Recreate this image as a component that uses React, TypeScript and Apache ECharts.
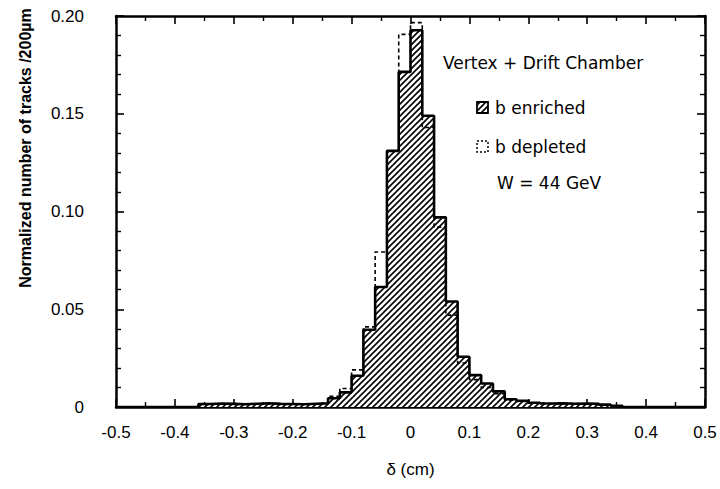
import React, { useEffect, useRef } from "react";
import * as echarts from "echarts";

// Histogram: bins of 200 µm (0.02 cm) from -0.5 to 0.5 cm
const BIN_START = -0.5;
const BIN_WIDTH = 0.02;

// b enriched (hatched) – normalized number of tracks per bin
const enriched = [
  0, 0, 0, 0, 0, 0, 0,
  0.0015, 0.0018, 0.0016, 0.0014, 0.0017, 0.0019, 0.0016, 0.0015, 0.0014, 0.0017, 0.0019,
  0.0045, 0.0075, 0.016, 0.0395, 0.0614, 0.131, 0.1714, 0.1927,
  0.149, 0.097, 0.054, 0.0257, 0.0163, 0.012, 0.008, 0.004,
  0.0032, 0.0022, 0.0018, 0.0019, 0.0017, 0.0018, 0.0016, 0.0012, 0.0006,
  0, 0, 0, 0, 0, 0, 0,
];

// b depleted (dashed outline)
const depleted = [
  0, 0, 0, 0, 0, 0, 0,
  0.0013, 0.0016, 0.0018, 0.0015, 0.0015, 0.0017, 0.0018, 0.0014, 0.0016, 0.0015, 0.0018,
  0.0055, 0.0095, 0.019, 0.041, 0.0793, 0.131, 0.1906, 0.1966,
  0.143, 0.092, 0.047, 0.0225, 0.014, 0.01, 0.0068, 0.0035,
  0.0028, 0.002, 0.0017, 0.0016, 0.0018, 0.0015, 0.0014, 0.001, 0.0005,
  0, 0, 0, 0, 0, 0, 0,
];

const xTickLabels = ["-0.5", "-0.4", "-0.3", "-0.2", "-0.1", "0", "0.1", "0.2", "0.3", "0.4", "0.5"];
const yTickLabels = ["0", "0.05", "0.10", "0.15", "0.20"];

const yTitle = "Normalized number of tracks /200\u00b5m";
const xTitle = "\u03b4 (cm)";
const legendTitle = "Vertex + Drift Chamber";
const legendEnriched = "b enriched";
const legendDepleted = "b depleted";
const energyNote = "W = 44 GeV";

function stepPoints(values: number[]): number[][] {
  const pts: number[][] = [];
  values.forEach((v, i) => {
    const x0 = BIN_START + i * BIN_WIDTH;
    const x1 = x0 + BIN_WIDTH;
    pts.push([+x0.toFixed(4), v], [+x1.toFixed(4), v]);
  });
  return pts;
}

function makeHatch() {
  const s = 6;
  const c = document.createElement("canvas");
  c.width = s;
  c.height = s;
  const g = c.getContext("2d")!;
  g.fillStyle = "#fff";
  g.fillRect(0, 0, s, s);
  g.strokeStyle = "#000";
  g.lineWidth = 1.6;
  g.beginPath();
  g.moveTo(-1, s + 1);
  g.lineTo(s + 1, -1);
  g.moveTo(-1, 1);
  g.lineTo(1, -1);
  g.moveTo(s - 1, s + 1);
  g.lineTo(s + 1, s - 1);
  g.stroke();
  return { image: c, repeat: "repeat", imageWidth: s, imageHeight: s } as any;
}

export default function App() {
  const ref = useRef<HTMLDivElement>(null);
  useEffect(() => {
    document.body.style.margin = "0";
    const chart = echarts.init(ref.current!, null, { renderer: "svg" });
    const hatch = makeHatch();
    const font = "Liberation Sans";
    const legendFont = "DejaVu Sans";
    const axisCommon = {
      axisLine: { show: true, onZero: false, lineStyle: { color: "#000", width: 2.5 } },
      axisTick: { show: true, inside: true, length: 8, lineStyle: { color: "#000", width: 1.6 } },
      splitLine: { show: false },
    };
    const xLabelFmt = (v: number) => {
      const idx = Math.round((v + 0.5) / 0.1);
      return xTickLabels[idx] ?? "";
    };
    const yLabelFmt = (v: number) => {
      const idx = Math.round(v / 0.05);
      return yTickLabels[idx] ?? "";
    };
    chart.setOption({
      animation: false,
      backgroundColor: "#fff",
      grid: { left: 116, right: 15, top: 16, bottom: 82, containLabel: false },
      xAxis: [
        {
          type: "value",
          min: -0.5,
          max: 0.5,
          interval: 0.1,
          position: "bottom",
          ...axisCommon,
          minorTick: { show: true, splitNumber: 2, length: 5, lineStyle: { color: "#000", width: 1.4 } },
          axisLabel: {
            show: true,
            margin: 17,
            color: "#000",
            fontFamily: font,
            fontSize: 17,
            formatter: xLabelFmt,
          },
          name: xTitle,
          nameLocation: "middle",
          nameGap: 54,
          nameTextStyle: { color: "#000", fontFamily: font, fontSize: 17 },
        },
        {
          type: "value",
          min: -0.5,
          max: 0.5,
          interval: 0.1,
          position: "top",
          ...axisCommon,
          minorTick: { show: true, splitNumber: 2, length: 5, lineStyle: { color: "#000", width: 1.4 } },
          axisLabel: { show: false },
        },
      ],
      yAxis: [
        {
          type: "value",
          min: 0,
          max: 0.2,
          interval: 0.05,
          position: "left",
          ...axisCommon,
          minorTick: { show: true, splitNumber: 5, length: 5, lineStyle: { color: "#000", width: 1.4 } },
          axisLabel: {
            show: true,
            margin: 32,
            color: "#000",
            fontFamily: font,
            fontSize: 17,
            formatter: yLabelFmt,
          },
        },
        {
          type: "value",
          min: 0,
          max: 0.2,
          interval: 0.05,
          position: "right",
          ...axisCommon,
          minorTick: { show: true, splitNumber: 5, length: 5, lineStyle: { color: "#000", width: 1.4 } },
          axisLabel: { show: false },
        },
      ],
      series: [
        {
          name: "b enriched fill",
          type: "line",
          data: stepPoints(enriched),
          showSymbol: false,
          symbol: "none",
          lineStyle: { width: 0, opacity: 0 },
          areaStyle: { color: hatch, opacity: 1, origin: "start" },
          silent: true,
          z: 2,
        },
        {
          name: "b depleted",
          type: "line",
          data: stepPoints(depleted),
          showSymbol: false,
          symbol: "none",
          lineStyle: { color: "#000", width: 1.6, type: [4, 3] },
          silent: true,
          z: 3,
        },
        {
          name: "b enriched",
          type: "line",
          data: stepPoints(enriched),
          showSymbol: false,
          symbol: "none",
          lineStyle: { color: "#000", width: 2.6 },
          silent: true,
          z: 4,
        },
      ],
      graphic: [
        {
          type: "text",
          x: 25,
          y: 148,
          rotation: Math.PI / 2,
          style: {
            text: yTitle,
            fill: "#000",
            font: `bold 16px "${font}"`,
            align: "center",
            verticalAlign: "middle",
          },
        },
        {
          type: "text",
          x: 443,
          y: 63,
          style: { text: legendTitle, fill: "#000", font: `17px "${legendFont}"`, verticalAlign: "middle" },
        },
        {
          type: "rect",
          shape: { x: 477, y: 102, width: 11, height: 11 },
          style: { fill: hatch, stroke: "#000", lineWidth: 1.8 },
        },
        {
          type: "text",
          x: 495,
          y: 108,
          style: { text: legendEnriched, fill: "#000", font: `17px "${legendFont}"`, verticalAlign: "middle" },
        },
        {
          type: "rect",
          shape: { x: 477, y: 141, width: 11, height: 11 },
          style: { fill: "none", stroke: "#000", lineWidth: 1.5, lineDash: [2, 2] },
        },
        {
          type: "text",
          x: 495,
          y: 147,
          style: { text: legendDepleted, fill: "#000", font: `17px "${legendFont}"`, verticalAlign: "middle" },
        },
        {
          type: "text",
          x: 497,
          y: 183,
          style: { text: energyNote, fill: "#000", font: `17px "${legendFont}"`, verticalAlign: "middle" },
        },
      ],
    });
    return () => chart.dispose();
  }, []);
  return (
    <div
      ref={ref}
      style={{ position: "fixed", left: 0, top: 0, width: 720, height: 489, background: "#fff" }}
    />
  );
}
